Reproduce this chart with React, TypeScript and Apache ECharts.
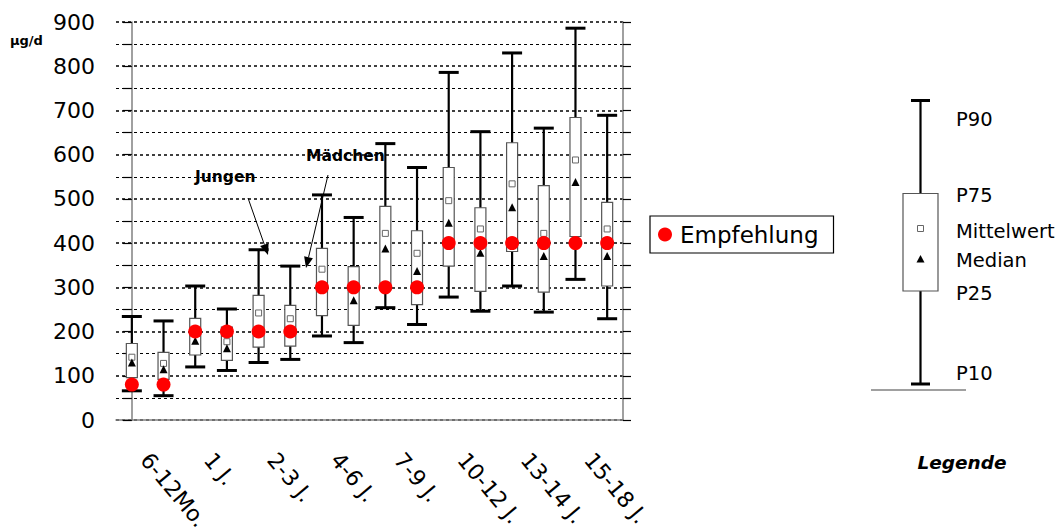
import React, { useEffect, useRef } from "react";
import * as echarts from "echarts";

// Altersgruppen (Kategorien der x-Achse)
const ageGroups = ["6-12Mo.", "1 J.", "2-3 J.", "4-6 J.", "7-9 J.", "10-12 J.", "13-14 J.", "15-18 J."];

// Folatzufuhr Jungen (µg/d): Perzentile, Mittelwert, Median
const jungenP10 = [66, 120, 130, 190, 254, 278, 303, 318];
const jungenP25 = [96, 147, 165, 236, 295, 348, 381, 415];
const jungenMedian = [130, 179, 205, 302, 388, 446, 481, 538];
const jungenMean = [142, 198, 242, 341, 422, 496, 534, 588];
const jungenP75 = [173, 230, 282, 388, 483, 571, 627, 684];
const jungenP90 = [234, 303, 385, 509, 625, 786, 830, 886];

// Folatzufuhr Mädchen (µg/d)
const maedchenP10 = [55, 112, 137, 175, 216, 246, 244, 229];
const maedchenP25 = [92, 135, 167, 214, 261, 291, 289, 303];
const maedchenMedian = [115, 162, 198, 271, 337, 378, 371, 371];
const maedchenMean = [128, 177, 229, 298, 377, 432, 422, 432];
const maedchenP75 = [153, 210, 259, 347, 428, 480, 530, 492];
const maedchenP90 = [224, 251, 348, 458, 571, 652, 660, 689];

// Empfehlung je Altersgruppe (µg/d)
const empfehlung = [80, 200, 200, 300, 300, 400, 400, 400];

// Beschriftungen der Legende rechts
const legendLabels = ["P90", "P75", "Mittelwert", "Median", "P25", "P10"];

const FONT = "DejaVu Sans";

export default function App() {
  const ref = useRef<HTMLDivElement>(null);

  useEffect(() => {
    if (!ref.current) return;
    const chart = echarts.init(ref.current, undefined, { renderer: "svg" });

    // two boxes per age group: slot 2g = Jungen, slot 2g+1 = Mädchen
    const boxData: number[][] = [];
    const meanData: number[][] = [];
    const medianData: number[][] = [];
    const empfData: number[][] = [];
    ageGroups.forEach((_, g) => {
      const j = 2 * g;
      const m = 2 * g + 1;
      boxData.push([j, jungenP10[g], jungenP25[g], jungenP75[g], jungenP90[g]]);
      boxData.push([m, maedchenP10[g], maedchenP25[g], maedchenP75[g], maedchenP90[g]]);
      meanData.push([j, jungenMean[g]], [m, maedchenMean[g]]);
      medianData.push([j, jungenMedian[g]], [m, maedchenMedian[g]]);
      empfData.push([j, empfehlung[g]], [m, empfehlung[g]]);
    });

    const arrow = (x1: number, y1: number, x2: number, y2: number) => {
      const dx = x2 - x1;
      const dy = y2 - y1;
      const len = Math.hypot(dx, dy);
      const ux = dx / len;
      const uy = dy / len;
      const hl = 11;
      const hw = 4.5;
      const bx = x2 - ux * hl;
      const by = y2 - uy * hl;
      return [
        {
          type: "line",
          shape: { x1, y1, x2: bx, y2: by },
          style: { stroke: "#000", lineWidth: 1 },
          silent: true,
        },
        {
          type: "polygon",
          shape: {
            points: [
              [x2, y2],
              [bx - uy * hw, by + ux * hw],
              [bx + uy * hw, by - ux * hw],
            ],
          },
          style: { fill: "#000" },
          silent: true,
        },
      ];
    };

    // schematic legend on the right
    const lx = 920.5;
    const legendYs = [119, 195, 231.5, 260, 293, 373];
    const legendGraphic: any[] = [
      { type: "line", shape: { x1: 871, y1: 390, x2: 966, y2: 390 }, style: { stroke: "#808080", lineWidth: 1.5 } },
      { type: "line", shape: { x1: lx, y1: 100.5, x2: lx, y2: 384 }, style: { stroke: "#000", lineWidth: 2.2 } },
      { type: "line", shape: { x1: lx - 9.5, y1: 100.5, x2: lx + 9.5, y2: 100.5 }, style: { stroke: "#000", lineWidth: 3 } },
      { type: "line", shape: { x1: lx - 9.5, y1: 384, x2: lx + 9.5, y2: 384 }, style: { stroke: "#000", lineWidth: 3 } },
      { type: "rect", shape: { x: 903, y: 193.5, width: 35, height: 97.5 }, style: { fill: "#fff", stroke: "#555", lineWidth: 1.2 } },
      { type: "rect", shape: { x: lx - 3, y: 225.5, width: 6, height: 6 }, style: { fill: "#fff", stroke: "#666", lineWidth: 1 } },
      {
        type: "polygon",
        shape: { points: [[lx, 255], [lx + 4, 262.5], [lx - 4, 262.5]] },
        style: { fill: "#000" },
      },
      ...legendLabels.map((t, i) => ({
        type: "text",
        x: 956,
        y: legendYs[i],
        style: { text: t, fill: "#000", font: `19.5px "${FONT}"`, verticalAlign: "middle", align: "left" },
      })),
      {
        type: "text",
        x: 962,
        y: 462,
        style: {
          text: "Legende",
          fill: "#000",
          font: `italic bold 18.5px "${FONT}"`,
          verticalAlign: "middle",
          align: "center",
        },
      },
    ];

    const option: any = {
      animation: false,
      backgroundColor: "#fff",
      textStyle: { fontFamily: FONT },
      grid: { left: 116, top: 22, width: 507, height: 398, containLabel: false, outerBoundsMode: "none" },
      legend: {
        data: [{ name: "Empfehlung", icon: "circle" }],
        left: 650,
        top: 216,
        itemWidth: 14,
        itemHeight: 14,
        padding: [7, 15, 7, 8],
        borderColor: "#000",
        borderWidth: 1.2,
        selectedMode: false,
        textStyle: { fontSize: 23, color: "#000", fontFamily: FONT, padding: [0, 0, 0, 3] },
      },
      xAxis: [
        {
          type: "category",
          data: ageGroups,
          boundaryGap: true,
          axisLine: { show: true, lineStyle: { color: "#808080", width: 1.5 } },
          axisTick: { show: false },
          splitLine: { show: false },
          axisLabel: {
            interval: 0,
            rotate: -50,
            margin: 39,
            fontSize: 22,
            color: "#000",
            fontFamily: FONT,
            padding: [0, 0, 0, -4],
          },
        },
        {
          type: "value",
          min: -0.5,
          max: 15.5,
          show: false,
        },
      ],
      yAxis: [
        {
          type: "value",
          min: 0,
          max: 900,
          interval: 100,
          axisLine: { show: true, lineStyle: { color: "#808080", width: 1.5 } },
          axisTick: { show: true, inside: false, length: 9, lineStyle: { color: "#000", width: 1.2 } },
          minorTick: { show: true, splitNumber: 2, length: 9, lineStyle: { color: "#000", width: 1.2 } },
          splitLine: { show: true, lineStyle: { color: "#000", width: 1.5, type: [3, 3] } },
          minorSplitLine: { show: true, lineStyle: { color: "#000", width: 1, type: [3, 3] } },
          axisLabel: { fontSize: 22, color: "#000", margin: 21, fontFamily: FONT },
        },
        {
          type: "value",
          position: "right",
          min: 0,
          max: 900,
          interval: 100,
          axisLine: { show: true, lineStyle: { color: "#808080", width: 1.5 } },
          axisTick: { show: true, inside: false, length: 8, lineStyle: { color: "#000", width: 1.2 } },
          minorTick: { show: true, splitNumber: 2, length: 8, lineStyle: { color: "#000", width: 1.2 } },
          splitLine: { show: false },
          axisLabel: { show: false },
        },
      ],
      series: [
        {
          name: "Perzentile",
          type: "custom",
          xAxisIndex: 1,
          yAxisIndex: 0,
          z: 2,
          data: boxData,
          encode: { x: 0, y: [1, 2, 3, 4] },
          renderItem: (_params: any, api: any) => {
            const slot = api.value(0);
            const [cx, y10] = api.coord([slot, api.value(1)]);
            const y25 = api.coord([slot, api.value(2)])[1];
            const y75 = api.coord([slot, api.value(3)])[1];
            const y90 = api.coord([slot, api.value(4)])[1];
            return {
              type: "group",
              children: [
                { type: "line", shape: { x1: cx, y1: y10, x2: cx, y2: y90 }, style: { stroke: "#000", lineWidth: 2.2 } },
                { type: "line", shape: { x1: cx - 10, y1: y90, x2: cx + 10, y2: y90 }, style: { stroke: "#000", lineWidth: 3 } },
                { type: "line", shape: { x1: cx - 10, y1: y10, x2: cx + 10, y2: y10 }, style: { stroke: "#000", lineWidth: 3 } },
                {
                  type: "rect",
                  shape: { x: cx - 5.5, y: y75, width: 11, height: y25 - y75 },
                  style: { fill: "#fff", stroke: "#555", lineWidth: 1.2 },
                },
              ],
            };
          },
        },
        {
          name: "Mittelwert",
          type: "scatter",
          xAxisIndex: 1,
          yAxisIndex: 0,
          z: 3,
          symbol: "rect",
          symbolSize: 6,
          itemStyle: { color: "#fff", borderColor: "#666", borderWidth: 1, opacity: 1 },
          data: meanData,
        },
        {
          name: "Median",
          type: "scatter",
          xAxisIndex: 1,
          yAxisIndex: 0,
          z: 4,
          symbol: "triangle",
          symbolSize: 8,
          itemStyle: { color: "#000", opacity: 1 },
          data: medianData,
        },
        {
          name: "Empfehlung",
          type: "scatter",
          xAxisIndex: 1,
          yAxisIndex: 0,
          z: 5,
          symbol: "circle",
          symbolSize: 14,
          itemStyle: { color: "#ff0000", opacity: 1 },
          data: empfData,
        },
      ],
      graphic: [
        {
          type: "text",
          x: 10,
          y: 40,
          style: { text: "µg/d", fill: "#000", font: `bold 13px "${FONT}"`, verticalAlign: "middle" },
        },
        {
          type: "text",
          x: 195,
          y: 177,
          style: { text: "Jungen", fill: "#000", font: `bold 15.5px "${FONT}"`, verticalAlign: "middle" },
        },
        {
          type: "text",
          x: 306,
          y: 156,
          style: { text: "Mädchen", fill: "#000", font: `bold 15.5px "${FONT}"`, verticalAlign: "middle" },
        },
        ...arrow(248, 198, 268, 255),
        ...arrow(328, 175, 306, 268),
        ...legendGraphic,
      ],
    };

    chart.setOption(option);
    return () => chart.dispose();
  }, []);

  return (
    <div
      ref={ref}
      style={{ position: "fixed", left: 0, top: 0, width: 1058, height: 532, background: "#fff" }}
    />
  );
}
